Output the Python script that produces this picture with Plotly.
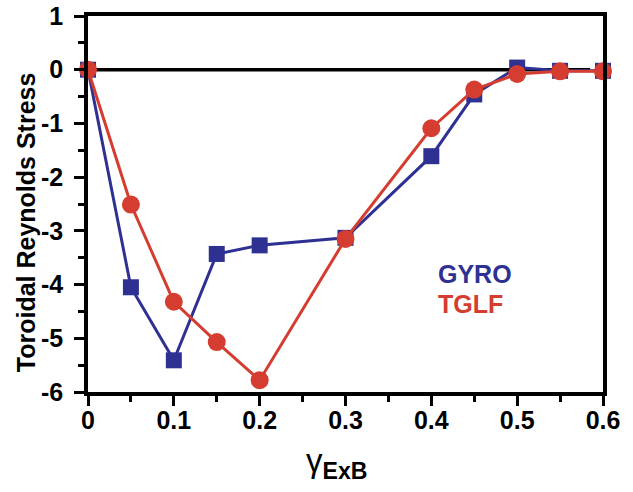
import plotly.graph_objects as go

# Toroidal Reynolds stress versus ExB shearing rate
gamma_exb = [0.0, 0.05, 0.1, 0.15, 0.2, 0.3, 0.4, 0.45, 0.5, 0.55, 0.6]
gyro = [0.0, -4.05, -5.41, -3.43, -3.27, -3.13, -1.61, -0.46, 0.04, -0.02, -0.02]
tglf = [0.0, -2.51, -4.32, -5.07, -5.78, -3.15, -1.09, -0.37, -0.08, -0.03, -0.03]

x_ticks = [0, 0.1, 0.2, 0.3, 0.4, 0.5, 0.6]
x_ticktext = ["0", "0.1", "0.2", "0.3", "0.4", "0.5", "0.6"]
y_ticks = [-6, -5, -4, -3, -2, -1, 0, 1]
y_ticktext = ["-6", "-5", "-4", "-3", "-2", "-1", "0", "1"]

BLUE = "#2E3192"
RED = "#D43D2F"
FONT = "Liberation Sans, Arial, Helvetica, sans-serif"

fig = go.Figure()

fig.add_trace(go.Scatter(
    x=gamma_exb, y=gyro, mode="lines+markers", name="GYRO",
    line=dict(color=BLUE, width=3),
    marker=dict(symbol="square", size=16, color=BLUE),
    cliponaxis=False,
))
fig.add_trace(go.Scatter(
    x=gamma_exb, y=tglf, mode="lines+markers", name="TGLF",
    line=dict(color=RED, width=3),
    marker=dict(symbol="circle", size=18, color=RED),
    cliponaxis=False,
))

# zero reference line
fig.add_shape(type="line", xref="x", yref="y", x0=0, x1=0.585, y0=0, y1=0,
              line=dict(color="black", width=3.5), layer="below")

axis_common = dict(
    showgrid=False, zeroline=False, showline=True, linecolor="black",
    linewidth=3.5, mirror=True, ticks="outside", ticklen=10, tickwidth=3,
    tickcolor="black", automargin=False, ticklabeloverflow="allow",
    tickfont=dict(family=FONT, size=25, color="black", weight="bold"),
)

fig.update_xaxes(
    range=[0, 0.6], tickmode="array", tickvals=x_ticks, ticktext=x_ticktext,
    minor=dict(ticks="outside", ticklen=6, tickwidth=3, tickcolor="black",
               tick0=0, dtick=0.05, showgrid=False),
    ticklabelstandoff=-7,
    **axis_common,
)
fig.update_yaxes(
    range=[-6, 1], tickmode="array", tickvals=y_ticks, ticktext=y_ticktext,
    minor=dict(ticks="outside", ticklen=6, tickwidth=3, tickcolor="black",
               tick0=0, dtick=0.5, showgrid=False),
    ticklabelstandoff=6,
    **axis_common,
)

# axis titles
fig.add_annotation(
    text="<b>Toroidal Reynolds Stress</b>", textangle=-90,
    xref="paper", yref="paper", x=-0.12, y=0.452,
    xanchor="center", yanchor="middle", showarrow=False,
    font=dict(family=FONT, size=25, color="black"),
)
fig.add_annotation(
    text="γ<sub><b>ExB</b></sub>",
    xref="paper", yref="paper", x=0.482, y=-0.127,
    xanchor="center", yanchor="top", showarrow=False,
    font=dict(family=FONT, size=33, color="black"),
)

# series labels
fig.add_annotation(text="<b>GYRO</b>", xref="x", yref="y", x=0.405, y=-3.81,
                   xanchor="left", yanchor="middle", showarrow=False,
                   font=dict(family=FONT, size=25, color=BLUE))
fig.add_annotation(text="<b>TGLF</b>", xref="x", yref="y", x=0.405, y=-4.37,
                   xanchor="left", yanchor="middle", showarrow=False,
                   font=dict(family=FONT, size=25, color=RED))

fig.update_layout(
    width=633, height=492,
    margin=dict(l=88, r=30, t=16, b=100),
    paper_bgcolor="white", plot_bgcolor="white",
    showlegend=False,
)

fig.write_html("out.html")
